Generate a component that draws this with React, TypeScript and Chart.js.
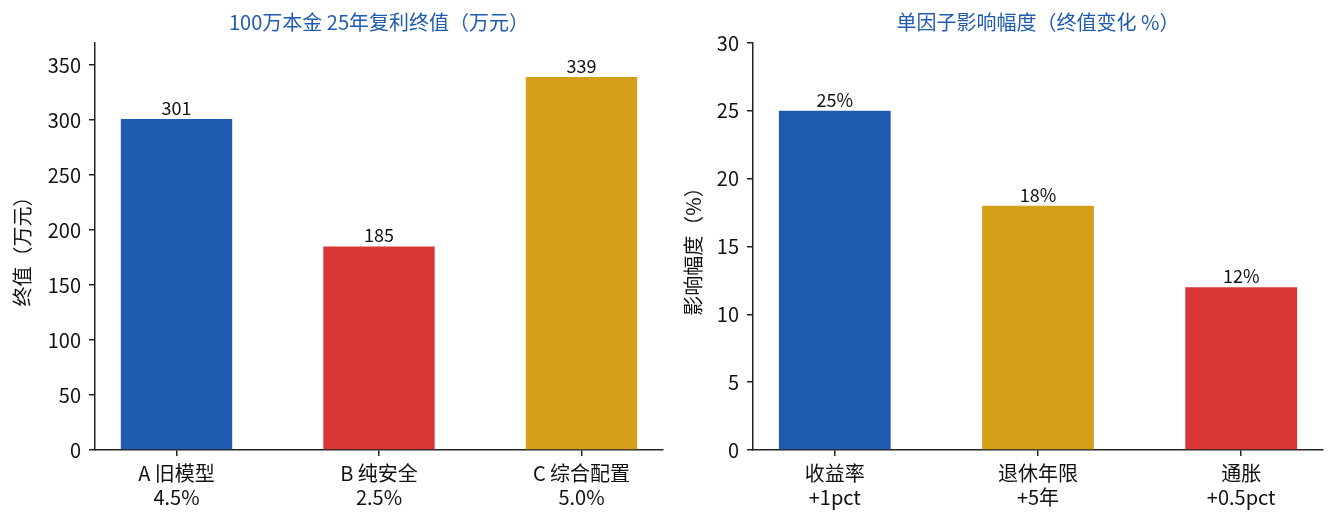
import { useEffect, useRef } from "react";
import { Chart, registerables } from "chart.js";

Chart.register(...registerables);

const FONT = '"Noto Sans CJK SC", "Noto Sans", sans-serif';

// left panel: final value of 1M principal after 25 years
const leftTitle = "100万本金 25年复利终值（万元）";
const leftAxisTitle = "终值（万元）";
const leftCategories = [
  ["A 旧模型", "4.5%"],
  ["B 纯安全", "2.5%"],
  ["C 综合配置", "5.0%"],
];
const leftValues = [301, 185, 339];
const leftColors = ["#1f5bb0", "#d93636", "#d4a01a"];

// right panel: single factor impact
const rightTitle = "单因子影响幅度（终值变化 %）";
const rightAxisTitle = "影响幅度（%）";
const rightCategories = [
  ["收益率", "+1pct"],
  ["退休年限", "+5年"],
  ["通胀", "+0.5pct"],
];
const rightValues = [25, 18, 12];
const rightColors = ["#1f5bb0", "#d4a01a", "#d93636"];

const valueLabels = {
  id: "valueLabels",
  afterDatasetsDraw(chart: any, _args: any, opts: any) {
    const ctx = chart.ctx;
    const meta = chart.getDatasetMeta(0);
    const data = chart.data.datasets[0].data;
    ctx.save();
    ctx.font = `18px ${FONT}`;
    ctx.fillStyle = "#111";
    ctx.textAlign = "center";
    ctx.textBaseline = "bottom";
    meta.data.forEach((bar: any, i: number) => {
      ctx.fillText(`${data[i].y}${opts.suffix || ""}`, bar.x, bar.y - 2);
    });
    ctx.restore();
  },
};

interface PanelProps {
  title: string;
  axisTitle: string;
  categories: string[][];
  values: number[];
  colors: string[];
  yMax: number;
  yStep: number;
  suffix: string;
  axisWidth: number;
  axisTitlePad: number;
  padRight: number;
  width: number;
}

function BarPanel(props: PanelProps) {
  const canvasRef = useRef<HTMLCanvasElement | null>(null);

  useEffect(() => {
    if (!canvasRef.current) return;
    const { categories, values } = props;
    const chart = new Chart(canvasRef.current, {
      type: "bar",
      data: {
        datasets: [
          {
            data: values.map((v, i) => ({ x: i, y: v })),
            backgroundColor: props.colors,
            borderWidth: 0,
            barPercentage: 0.55,
            categoryPercentage: 1,
          },
        ],
      },
      options: {
        responsive: true,
        maintainAspectRatio: false,
        animation: false,
        layout: { padding: { left: 0, right: props.padRight, top: 0, bottom: 0 } },
        plugins: {
          legend: { display: false },
          tooltip: { enabled: false },
          title: {
            display: true,
            text: props.title,
            color: "#1f5bb0",
            fullSize: false,
            font: { family: FONT, size: 20, weight: "normal", lineHeight: 1.2 },
            padding: { top: 10, bottom: 9 },
          },
          valueLabels: { suffix: props.suffix },
        } as any,
        scales: {
          x: {
            type: "linear",
            offset: false,
            min: -0.4025,
            max: categories.length - 1 + 0.4025,
            afterBuildTicks: (s: any) => {
              s.ticks = categories.map((_, i) => ({ value: i }));
            },
            afterFit: (s: any) => {
              s.height = 77;
            },
            ticks: {
              callback: (v: any) => categories[v],
              font: { family: FONT, size: 20, lineHeight: 1.2 },
              color: "#111",
              padding: 5,
              maxRotation: 0,
              autoSkip: false,
            },
            grid: {
              offset: false,
              drawOnChartArea: false,
              tickLength: 6,
              color: "#222",
              lineWidth: 1.5,
            },
            border: { color: "#222", width: 1.5 },
          },
          y: {
            min: 0,
            max: props.yMax,
            afterFit: (s: any) => {
              s.width = props.axisWidth;
            },
            ticks: {
              stepSize: props.yStep,
              includeBounds: false,
              font: { family: FONT, size: 20 },
              color: "#111",
              padding: 8,
            },
            title: {
              display: true,
              text: props.axisTitle,
              color: "#111",
              font: { family: FONT, size: 20, lineHeight: 1.2 },
              padding: { top: props.axisTitlePad, bottom: 0 },
            },
            grid: { drawOnChartArea: false, tickLength: 6, color: "#222", lineWidth: 1.5 },
            border: { color: "#222", width: 1.5 },
          },
        } as any,
      },
      plugins: [valueLabels],
    });
    return () => chart.destroy();
  }, []);

  return (
    <div style={{ position: "relative", width: props.width, height: 527 }}>
      <canvas ref={canvasRef}></canvas>
    </div>
  );
}

export default function App() {
  return (
    <div
      style={{
        position: "absolute",
        left: 0,
        top: 0,
        width: 1335,
        height: 527,
        display: "flex",
        background: "#fff",
      }}
    >
      <BarPanel
        title={leftTitle}
        axisTitle={leftAxisTitle}
        categories={leftCategories}
        values={leftValues}
        colors={leftColors}
        yMax={370}
        yStep={50}
        suffix=""
        axisWidth={95}
        axisTitlePad={10}
        padRight={4}
        width={667}
      />
      <BarPanel
        title={rightTitle}
        axisTitle={rightAxisTitle}
        categories={rightCategories}
        values={rightValues}
        colors={rightColors}
        yMax={30}
        yStep={5}
        suffix="%"
        axisWidth={86}
        axisTitlePad={14}
        padRight={12}
        width={668}
      />
    </div>
  );
}
